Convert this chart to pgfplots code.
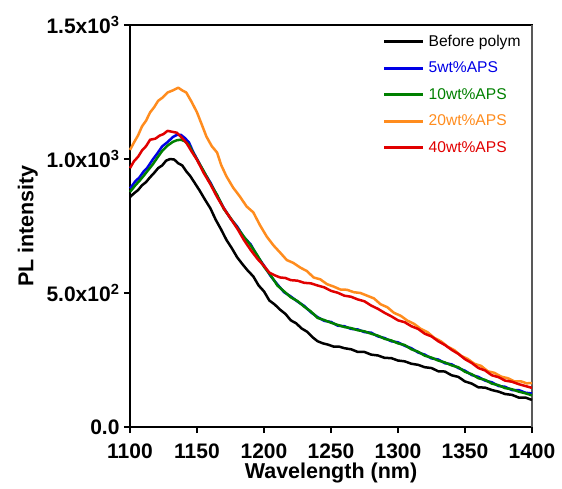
\documentclass[border=0pt]{standalone}
\usepackage{pgfplots}
\pgfplotsset{compat=1.18}
\usepackage{fontspec}
\setmainfont{Liberation Sans}
\definecolor{cblue}{RGB}{0,0,230}
\definecolor{cgreen}{RGB}{0,128,0}
\definecolor{corange}{RGB}{255,140,30}
\definecolor{cred}{RGB}{225,0,0}
\begin{document}
\begin{tikzpicture}
\useasboundingbox (-130pt,-61pt) rectangle (432pt,427pt);
\begin{axis}[
    name=ax,
    at={(0pt,0pt)}, anchor=south west,
    scale only axis,
    width=402pt, height=402pt,
    clip=false,
    xmin=1100, xmax=1400, ymin=0, ymax=1500,
    xtick={1100,1150,1200,1250,1300,1350,1400},
    xticklabels={1100,1150,1200,1250,1300,1350,1400},
    ytick={0,500,1000,1500},
    yticklabels={0.0,5.0x10\textsuperscript{2},1.0x10\textsuperscript{3},1.5x10\textsuperscript{3}},
    tick align=outside,
    xtick pos=bottom, ytick pos=left,
    major tick length=6pt,
    minor tick num=0,
    axis line style={line width=1.3pt},
    tick style={line width=1.3pt, black},
    ticklabel style={font=\fontsize{21}{23}\selectfont\bfseries},
    xticklabel style={yshift=-7pt},
    yticklabel style={xshift=-1pt},
    xlabel={Wavelength (nm)},
    ylabel={PL intensity},
    label style={font=\fontsize{21.5}{24}\selectfont\bfseries},
    xlabel style={at={(axis description cs:0.5,-0.115)}, anchor=center},
    ylabel style={at={(axis description cs:-0.254,0.5)}, anchor=center},
    legend style={draw=none, fill=none, at={(0.628,0.975)}, anchor=north west,
      font=\fontsize{15.6}{17}\selectfont, row sep=14pt, inner sep=0pt,
      nodes={inner xsep=4pt, inner ysep=0pt}},
    legend cell align=left,
    legend image code/.code={\draw[#1, line width=3pt] (0pt,0pt) -- (39pt,0pt);},
    every axis plot/.append style={line width=2.5pt, line join=round},
]
\addplot[black, line width=1.6pt, forget plot] coordinates {(1100,1500) (1400,1500)};
\addplot[black!65, line width=1.8pt, forget plot] coordinates {(1400,1500) (1400,0)};
\addplot[black] coordinates {
(1100,858) (1103,872) (1106,884) (1109,902) (1112,914) (1115,932) (1118,948) (1121,966) (1124,976) (1127,994) (1130,1000) (1133,998) (1136,984) (1139,976) (1142,954) (1145,936) (1148,913) (1152,882) (1156,848) (1160,816) (1164,773) (1168,737) (1172,698) (1176,667) (1180,633) (1184,607) (1188,583) (1192,562) (1196,528) (1200,506) (1204,472) (1208,457) (1212,438) (1216,422) (1220,398) (1224,387) (1228,368) (1232,356) (1236,336) (1240,320) (1244,312) (1248,307) (1252,300) (1256,300) (1260,294) (1265,290) (1270,280) (1275,280) (1280,270) (1285,267) (1290,258) (1295,257) (1300,248) (1305,245) (1310,236) (1315,232) (1320,223) (1325,220) (1330,208) (1335,207) (1340,193) (1345,187) (1350,170) (1355,162) (1360,148) (1365,147) (1370,138) (1375,132) (1380,123) (1385,120) (1390,110) (1395,110) (1400,101)};
\addlegendentry{Before polym}
\addplot[cblue] coordinates {
(1100,890) (1104,917) (1107,931) (1110,952) (1113,968) (1117,998) (1120,1018) (1124,1047) (1128,1063) (1132,1082) (1135,1090) (1138,1090) (1141,1078) (1144,1062) (1147,1028) (1150,1000) (1155,953) (1160,912) (1165,863) (1170,817) (1175,778) (1180,748) (1185,708) (1190,682) (1195,638) (1200,602) (1205,563) (1210,532) (1215,503) (1220,487) (1225,468) (1230,452) (1235,428) (1240,410) (1245,396) (1250,392) (1255,378) (1260,376) (1265,366) (1270,364) (1275,354) (1280,352) (1285,338) (1290,332) (1295,320) (1300,316) (1305,303) (1310,294) (1315,278) (1320,270) (1325,256) (1330,252) (1335,238) (1340,234) (1345,220) (1350,210) (1355,194) (1360,187) (1365,173) (1370,167) (1375,153) (1380,150) (1385,138) (1390,138) (1395,128) (1400,125)};
\addlegendentry{\textcolor{cblue}{5wt\%APS}}
\addplot[cgreen] coordinates {
(1100,877) (1104,902) (1107,918) (1110,936) (1113,955) (1117,980) (1120,1002) (1124,1030) (1128,1050) (1132,1064) (1135,1070) (1138,1072) (1141,1066) (1144,1052) (1147,1024) (1150,998) (1155,955) (1160,908) (1165,866) (1170,814) (1175,780) (1180,744) (1185,710) (1190,678) (1195,641) (1200,598) (1205,566) (1210,528) (1215,506) (1220,484) (1225,470) (1230,449) (1235,431) (1240,407) (1245,399) (1250,389) (1255,381) (1260,373) (1265,369) (1270,361) (1275,357) (1280,348) (1285,341) (1290,329) (1295,323) (1300,312) (1305,306) (1310,290) (1315,281) (1320,266) (1325,259) (1330,248) (1335,241) (1340,230) (1345,223) (1350,206) (1355,197) (1360,182) (1365,176) (1370,162) (1375,156) (1380,145) (1385,141) (1390,132) (1395,126) (1400,118)};
\addlegendentry{\textcolor{cgreen}{10wt\%APS}}
\addplot[corange] coordinates {
(1100,1034) (1103,1062) (1106,1088) (1109,1122) (1112,1143) (1115,1174) (1118,1193) (1121,1217) (1124,1228) (1128,1248) (1132,1256) (1136,1266) (1139,1256) (1142,1248) (1146,1213) (1150,1174) (1154,1123) (1157,1084) (1161,1048) (1165,1024) (1168,978) (1172,935) (1177,893) (1182,860) (1187,823) (1192,801) (1197,753) (1202,711) (1207,678) (1212,651) (1217,623) (1222,612) (1227,595) (1232,582) (1237,558) (1242,551) (1247,533) (1252,524) (1257,513) (1262,512) (1267,503) (1272,500) (1277,490) (1282,480) (1287,458) (1292,447) (1297,426) (1302,415) (1307,397) (1312,385) (1317,366) (1322,354) (1327,333) (1332,320) (1337,300) (1342,287) (1347,266) (1352,254) (1357,236) (1362,228) (1367,208) (1372,202) (1377,188) (1382,182) (1387,170) (1392,170) (1396,163) (1400,164)};
\addlegendentry{\textcolor{corange}{20wt\%APS}}
\addplot[cred] coordinates {
(1100,966) (1103,992) (1106,1008) (1109,1032) (1112,1048) (1115,1072) (1119,1076) (1122,1087) (1125,1093) (1128,1105) (1131,1102) (1135,1098) (1138,1083) (1142,1061) (1146,1028) (1150,997) (1155,948) (1160,906) (1165,858) (1170,816) (1175,778) (1180,741) (1185,698) (1190,661) (1195,628) (1200,601) (1204,576) (1208,566) (1212,558) (1216,556) (1220,548) (1225,546) (1230,538) (1235,536) (1240,528) (1245,521) (1250,508) (1255,501) (1260,490) (1265,486) (1270,476) (1275,469) (1280,453) (1285,441) (1290,426) (1295,413) (1300,398) (1305,391) (1310,376) (1315,366) (1320,348) (1325,338) (1330,320) (1335,306) (1340,288) (1345,273) (1350,253) (1355,239) (1360,220) (1365,211) (1370,193) (1375,186) (1380,173) (1385,169) (1390,160) (1395,153) (1400,146)};
\addlegendentry{\textcolor{cred}{40wt\%APS}}
\end{axis}
\end{tikzpicture}
\end{document}
